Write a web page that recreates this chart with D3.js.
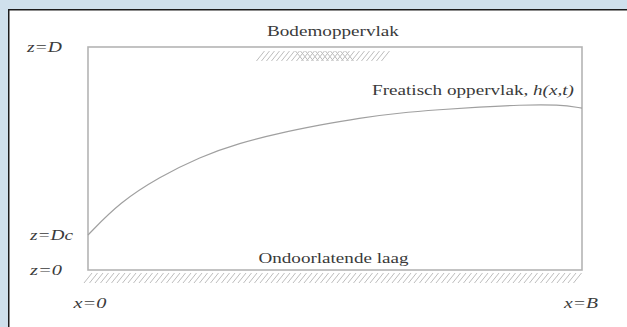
<!DOCTYPE html>
<html>
<head>
<meta charset="utf-8">
<script src="https://cdn.jsdelivr.net/npm/d3@7"></script>
<style>
  html, body { margin: 0; padding: 0; background: #cfe0ec; }
  svg { display: block; }
</style>
</head>
<body>
<script>
// Phreatic surface h(x,t) between x=0 and x=B, in percent of B and D
const curveX = [0, 6.5, 14.5, 22.6, 30.7, 38.8, 46.9, 54.9, 63.0, 71.1, 79.2, 87.3, 95.4, 100];
const curveZ = [15.7, 30.5, 41.7, 50.7, 57.0, 61.4, 65.0, 68.2, 70.4, 71.9, 73.1, 74.0, 74.2, 72.6];

// Axis marks
const xTicks = [0, 100];
const xTickLabels = ["x=0", "x=B"];
const zTicks = [100, 15.7, 0];
const zTickLabels = ["z=D", "z=Dc", "z=0"];

// Annotation texts
const surfaceLabel = "Bodemoppervlak";
const phreaticLabel = ["Freatisch oppervlak, ", "h(x,t)"];
const baseLabel = "Ondoorlatende laag";

const W = 627, H = 327;
const svg = d3.select("body").append("svg").attr("width", W).attr("height", H);

// White panel with dark left/top edge
svg.append("rect").attr("x", 9).attr("y", 10).attr("width", W - 9).attr("height", H - 10).attr("fill", "#fff");
svg.append("path").attr("d", `M8.75,${H} V9.75 H${W}`).attr("fill", "none")
  .attr("stroke", "#1c1c1c").attr("stroke-width", 1.5);

const x = d3.scaleLinear().domain([0, 100]).range([88, 582]);
const z = d3.scaleLinear().domain([0, 100]).range([270, 47]);

const grey = "#b4b4b4";
const ink = "#3a3a3a";
const font = "'Liberation Serif', 'DejaVu Serif', serif";

// Stretch a text run horizontally to a target width
function label(parts, x0, y0, width, anchor) {
  const g = svg.append("g");
  const t = g.append("text").attr("x", 0).attr("y", 0)
    .attr("font-family", font).attr("font-size", 15).attr("fill", ink);
  parts.forEach(p => t.append("tspan").text(p.t).attr("font-style", p.i ? "italic" : "normal"));
  const w = t.node().getComputedTextLength();
  const s = width / w;
  const left = anchor === "middle" ? x0 - width / 2 : x0;
  g.attr("transform", `translate(${left},${y0}) scale(${s},1)`);
}

// Domain box
svg.append("rect")
  .attr("x", x(0)).attr("y", z(100))
  .attr("width", x(100) - x(0)).attr("height", z(0) - z(100))
  .attr("fill", "none").attr("stroke", grey).attr("stroke-width", 1.6);

// Impermeable base hatching
const baseHatch = svg.append("g").attr("stroke", "#bdbdbd").attr("stroke-width", 1);
d3.range(x(0) - 4, x(100) - 6, 5.5).forEach(px => {
  baseHatch.append("line").attr("x1", px).attr("y1", z(0) + 13).attr("x2", px + 8).attr("y2", z(0) + 3);
});

// Ground surface hatching
const surfHatch = svg.append("g").attr("stroke", "#bdbdbd").attr("stroke-width", 1);
d3.range(x(34.1), x(60), 5).forEach(px => {
  surfHatch.append("line").attr("x1", px).attr("y1", z(100) + 14).attr("x2", px + 8).attr("y2", z(100) + 4);
});
d3.range(x(42), x(53), 5).forEach(px => {
  surfHatch.append("line").attr("x1", px).attr("y1", z(100) + 4).attr("x2", px + 8).attr("y2", z(100) + 14);
});

// Phreatic surface
const pts = curveX.map((v, i) => [v, curveZ[i]]);
svg.append("path")
  .datum(pts)
  .attr("d", d3.line().x(d => x(d[0])).y(d => z(d[1])).curve(d3.curveBasis))
  .attr("fill", "none").attr("stroke", "#a0a0a0").attr("stroke-width", 1.2);

// z labels on the left
const zWidths = [35, 43, 32];
const zLeft = [27, 30, 30];
zTicks.forEach((v, i) => {
  label([{ t: zTickLabels[i], i: true }], zLeft[i], z(v) + 5, zWidths[i], "start");
});

// x labels below
const xWidths = [33, 34];
xTicks.forEach((v, i) => {
  label([{ t: xTickLabels[i], i: true }], x(v) + (i === 0 ? 2 : -1), 308, xWidths[i], "middle");
});

label([{ t: surfaceLabel, i: false }], x(49.6), 36, 132, "middle");
label([{ t: phreaticLabel[0], i: false }, { t: phreaticLabel[1], i: true }], x(57.5), 95, 202, "start");
label([{ t: baseLabel, i: false }], x(49.7), 263, 150, "middle");
</script>
</body>
</html>
